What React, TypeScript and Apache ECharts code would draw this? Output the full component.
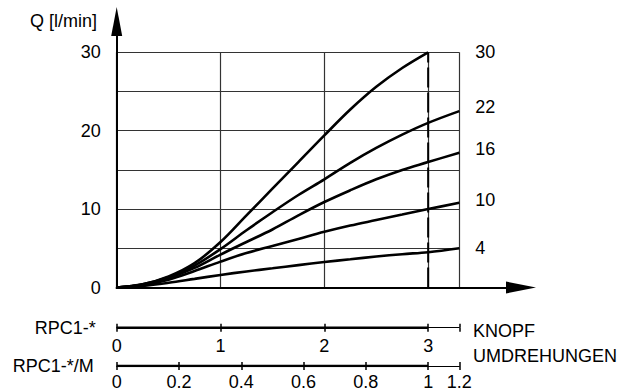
import React, { useEffect, useRef } from "react";
import * as echarts from "echarts";

// Knob turns (x) at which the curves were read
const turns = [0, 0.25, 0.5, 0.75, 1, 1.25, 1.5, 1.75, 2, 2.25, 2.5, 2.75, 3, 3.3];
// Flow Q [l/min] per curve (label = nominal setting)
const q30 = [0, 0.4, 1.4, 3.1, 5.8, 9.2, 12.6, 16.0, 19.4, 22.7, 25.6, 28.0, 30];
const q22 = [0, 0.4, 1.3, 2.8, 4.9, 7.3, 9.6, 11.8, 13.8, 15.9, 17.8, 19.5, 21.0, 22.5];
const q16 = [0, 0.35, 1.2, 2.5, 4.2, 5.8, 7.4, 9.2, 10.9, 12.4, 13.8, 15.0, 16.0, 17.2];
const q10 = [0, 0.3, 1.0, 2.1, 3.3, 4.4, 5.3, 6.2, 7.1, 7.9, 8.6, 9.3, 10.0, 10.8];
const q4 = [0, 0.2, 0.6, 1.1, 1.6, 2.05, 2.45, 2.85, 3.25, 3.6, 3.95, 4.25, 4.5, 5.0];
const curveNames = ["30", "22", "16", "10", "4"];
const curveData = [q30, q22, q16, q10, q4];

// Scales
const xMax = 3.3;
const yTicksShown = [0, 10, 20, 30];
const knobTicks = [0, 1, 2, 3];
const knobEnd = 3;
const mLabels = ["0", "0.2", "0.4", "0.6", "0.8", "1", "1.2"];
const mValues = [0, 0.2, 0.4, 0.6, 0.8, 1, 1.2];

const FONT = "Liberation Sans, Arial, Helvetica, sans-serif";

export default function App() {
  const ref = useRef<HTMLDivElement>(null);
  useEffect(() => {
    if (!ref.current) return;
    const chart = echarts.init(ref.current, null, { renderer: "svg" });
    const mPos = mValues.map((v) => Math.min(v * 3, xMax));
    const labelOffsets: number[][] = [[39, 0], [8, -4], [8, -4], [8, -3], [8, 0]];

    const gL = 116.7, gW = 342.6;
    const hiddenAxis = (grid: number) => ({
      gridIndex: grid, type: "value", min: 0, max: 1, show: false,
    });

    const curveSeries = curveNames.map((name, i) => ({
      type: "line", name, xAxisIndex: 0, yAxisIndex: 0,
      data: curveData[i].map((v, k) => [turns[k], v]),
      smooth: 0.35, symbol: "none",
      lineStyle: { color: "#000", width: 2.6 },
      endLabel: {
        show: true, formatter: "{a}", color: "#000", fontSize: 18, fontFamily: FONT,
        offset: labelOffsets[i],
      },
    }));

    const tickCommon = { lineStyle: { color: "#000", width: 1.5 }, length: 4 };

    chart.setOption({
      animation: false,
      textStyle: { fontFamily: FONT },
      title: [
        { text: "Q [l/min]", left: 30, top: 12, padding: 0, textStyle: { fontSize: 18, fontWeight: "normal", color: "#000", fontFamily: FONT } },
        { text: "KNOPF\nUMDREHUNGEN", left: 473, top: 318.5, padding: 0, textStyle: { fontSize: 18, fontWeight: "normal", color: "#000", lineHeight: 25, fontFamily: FONT } },
      ],
      grid: [
        { left: gL, top: 52.3, width: gW, height: 235.2 },
        { left: gL, top: 36, width: 389.3, height: 251.5 },
        { left: gL, top: 317.7, width: gW, height: 10 },
        { left: gL, top: 359, width: gW, height: 10 },
      ],
      xAxis: [
        {
          gridIndex: 0, type: "value", min: 0, max: xMax, interval: 1,
          axisLine: { show: true, lineStyle: { color: "#000", width: 2 } },
          axisTick: { show: false }, axisLabel: { show: false },
          splitLine: { show: true, lineStyle: { color: "#333", width: 1.2 } },
        },
        {
          gridIndex: 1, type: "value", min: 0, max: 1,
          axisLine: { show: true, symbol: ["none", "triangle"], symbolSize: [12, 30], symbolOffset: [0, 15], lineStyle: { color: "#000", width: 2 } },
          axisTick: { show: false }, axisLabel: { show: false }, splitLine: { show: false },
        },
        {
          gridIndex: 2, type: "value", min: 0, max: xMax, position: "bottom",
          axisLine: { show: true, lineStyle: { color: "#000", width: 1 } },
          axisTick: { show: true, customValues: [...knobTicks, xMax], ...tickCommon },
          axisLabel: { show: true, customValues: knobTicks, formatter: (v: number) => String(v), fontSize: 18, color: "#000", margin: 9, fontFamily: FONT },
          splitLine: { show: false },
          name: "RPC1-*", nameLocation: "start", nameGap: 21,
          nameTextStyle: { fontSize: 18, color: "#000", fontFamily: FONT },
        },
        {
          gridIndex: 3, type: "value", min: 0, max: xMax, position: "bottom",
          axisLine: { show: true, lineStyle: { color: "#000", width: 1 } },
          axisTick: { show: true, customValues: mPos, ...tickCommon },
          axisLabel: {
            show: true, customValues: mPos,
            formatter: (v: number) => {
              const idx = mPos.findIndex((p) => Math.abs(p - v) < 1e-6);
              return idx >= 0 ? mLabels[idx] : "";
            },
            fontSize: 18, color: "#000", margin: 7, fontFamily: FONT,
          },
          splitLine: { show: false },
          name: "RPC1-*/M", nameLocation: "start", nameGap: 23,
          nameTextStyle: { fontSize: 18, color: "#000", fontFamily: FONT },
        },
        {
          gridIndex: 2, type: "value", min: 0, max: xMax, position: "bottom",
          axisLine: { show: false },
          axisTick: { show: true, inside: true, customValues: [...knobTicks, xMax], ...tickCommon },
          axisLabel: { show: false }, splitLine: { show: false },
        },
        {
          gridIndex: 3, type: "value", min: 0, max: xMax, position: "bottom",
          axisLine: { show: false },
          axisTick: { show: true, inside: true, customValues: mPos, ...tickCommon },
          axisLabel: { show: false }, splitLine: { show: false },
        },
      ],
      yAxis: [
        {
          gridIndex: 0, type: "value", min: 0, max: 30, interval: 5,
          axisLine: { show: true, lineStyle: { color: "#000", width: 2 } },
          axisTick: { show: false },
          axisLabel: {
            show: true, fontSize: 18, color: "#000", margin: 16, fontFamily: FONT,
            formatter: (v: number) => (yTicksShown.includes(v) ? String(v) : ""),
          },
          splitLine: { show: true, lineStyle: { color: "#333", width: 1.2 } },
        },
        {
          gridIndex: 1, type: "value", min: 0, max: 1,
          axisLine: { show: true, symbol: ["none", "triangle"], symbolSize: [11, 29], symbolOffset: [0, 14.5], lineStyle: { color: "#000", width: 2 } },
          axisTick: { show: false }, axisLabel: { show: false }, splitLine: { show: false },
        },
        hiddenAxis(2),
        hiddenAxis(3),
      ],
      series: [
        ...curveSeries,
        {
          type: "line", xAxisIndex: 0, yAxisIndex: 0, symbol: "none",
          data: [[knobEnd, 0], [knobEnd, 30]],
          lineStyle: { color: "#000", width: 2, type: [20, 5] },
        },
        {
          type: "line", xAxisIndex: 2, yAxisIndex: 2, symbol: "none",
          data: [[0, 0], [knobEnd, 0]],
          lineStyle: { color: "#000", width: 2.5 },
        },
        {
          type: "line", xAxisIndex: 3, yAxisIndex: 3, symbol: "none",
          data: [[0, 0], [knobEnd, 0]],
          lineStyle: { color: "#000", width: 2.5 },
        },
      ],
    });
    return () => chart.dispose();
  }, []);
  return (
    <div
      ref={ref}
      style={{ position: "fixed", left: 0, top: 0, width: 628, height: 391, background: "#fff" }}
    />
  );
}
